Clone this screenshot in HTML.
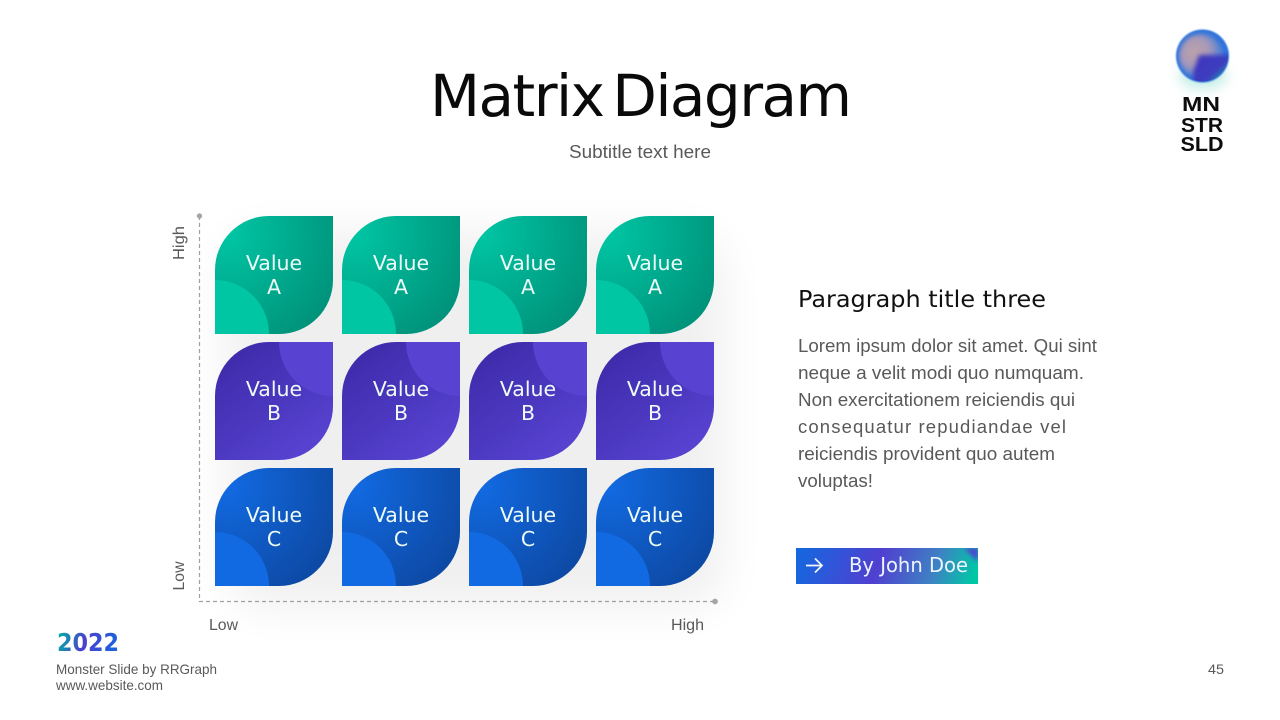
<!DOCTYPE html>
<html><head><meta charset="utf-8"><style>
html,body{margin:0;padding:0;background:#fff;width:1280px;height:720px;overflow:hidden}
svg{display:block}
text{font-family:"Liberation Sans",sans-serif}
.d{font-family:"DejaVu Sans",sans-serif}
.v{font-family:"DejaVu Sans",sans-serif;font-size:20.5px;fill:#eefbf8;text-anchor:middle}
</style></head><body>
<svg width="1280" height="720" viewBox="0 0 1280 720" xmlns="http://www.w3.org/2000/svg">
<defs>
<radialGradient id="ga" cx=".1" cy=".15" r="1.05"><stop offset="0" stop-color="#00c6a4"/><stop offset="1" stop-color="#00927a"/></radialGradient>
<linearGradient id="gb" x1=".2" y1=".05" x2=".85" y2=".95"><stop offset="0" stop-color="#3e2bab"/><stop offset="1" stop-color="#5844d2"/></linearGradient>
<radialGradient id="gc" cx=".1" cy=".15" r="1.05"><stop offset="0" stop-color="#126ae2"/><stop offset="1" stop-color="#0d49a4"/></radialGradient>
<linearGradient id="gy" gradientUnits="userSpaceOnUse" x1="57" y1="632" x2="119" y2="652"><stop offset="0" stop-color="#00b5a0"/><stop offset=".45" stop-color="#4b3fd0"/><stop offset="1" stop-color="#1269e0"/></linearGradient>
<linearGradient id="gbtn" gradientUnits="userSpaceOnUse" x1="800" y1="535" x2="975" y2="597"><stop offset="0" stop-color="#1269e0"/><stop offset=".45" stop-color="#5040d0"/><stop offset=".74" stop-color="#3f80c4"/><stop offset=".96" stop-color="#00c8a5"/></linearGradient>
<radialGradient id="tan" gradientUnits="userSpaceOnUse" cx="1195" cy="52" r="24"><stop offset="0" stop-color="#bda4a8"/><stop offset=".6" stop-color="#a898b8"/><stop offset="1" stop-color="#5f86d0"/></radialGradient>
<linearGradient id="orb2" gradientUnits="userSpaceOnUse" x1="1195" y1="50" x2="1224" y2="80"><stop offset="0" stop-color="#3c36ba"/><stop offset=".72" stop-color="#3c3cc0"/><stop offset="1" stop-color="#10b0a0"/></linearGradient>
<filter id="s" x="-50%" y="-50%" width="200%" height="200%"><feGaussianBlur stdDeviation="22"/></filter>
<filter id="b2" x="-30%" y="-30%" width="160%" height="160%"><feGaussianBlur stdDeviation="2.4"/></filter>
<filter id="b1" x="-10%" y="-10%" width="120%" height="120%"><feGaussianBlur stdDeviation=".7"/></filter>
<filter id="b6" x="-50%" y="-50%" width="200%" height="200%"><feGaussianBlur stdDeviation="6"/></filter>
<path id="leaf" d="M54 0H118V64A54 54 0 0 1 64 118H0V54A54 54 0 0 1 54 0Z"/>
<clipPath id="cl"><use href="#leaf"/></clipPath>
<clipPath id="orbclip"><circle cx="1202.5" cy="56" r="25.5"/></clipPath>
<g id="A"><use href="#leaf" fill="url(#ga)"/><circle cx="0" cy="118" r="54" fill="#00c6a4" clip-path="url(#cl)"/></g>
<g id="B"><use href="#leaf" fill="url(#gb)"/><circle cx="118" cy="0" r="54" fill="#5842d2" clip-path="url(#cl)"/></g>
<g id="C"><use href="#leaf" fill="url(#gc)"/><circle cx="0" cy="118" r="54" fill="#126ae2" clip-path="url(#cl)"/></g>
</defs>

<text class="d" x="641" y="116" font-size="58" word-spacing="-8" text-anchor="middle" fill="#0a0a0a" textLength="422" lengthAdjust="spacing">Matrix Diagram</text>
<text x="640" y="158" font-size="18.5" text-anchor="middle" fill="#595959" textLength="142" lengthAdjust="spacingAndGlyphs">Subtitle text here</text>

<!-- logo -->
<ellipse cx="1203" cy="76" rx="24" ry="14" fill="#5fd0bc" opacity=".35" filter="url(#b6)"/>
<circle cx="1202.5" cy="56" r="26.5" fill="#2a72dc" filter="url(#b1)"/>
<g clip-path="url(#orbclip)">
<circle cx="1201" cy="56" r="22" fill="url(#tan)" filter="url(#b2)"/>
<path d="M1199 55H1232V90H1193V72Z" fill="url(#orb2)" filter="url(#b2)"/>
</g>
<g font-weight="bold" fill="#0d0d0d" text-anchor="middle">
<text x="1201" y="111" font-size="20" textLength="38" lengthAdjust="spacingAndGlyphs">MN</text>
<text x="1202" y="132" font-size="20" textLength="42" lengthAdjust="spacingAndGlyphs">STR</text>
<text x="1202" y="151" font-size="20" textLength="43" lengthAdjust="spacingAndGlyphs">SLD</text>
</g>

<!-- shadow -->
<rect x="226" y="232" width="498" height="376" rx="40" fill="#000" opacity=".06" filter="url(#s)"/>

<!-- axes -->
<path d="M199.5 216V601.5H715" fill="none" stroke="#a0a0a0" stroke-width="1.2" stroke-dasharray="4 3"/>
<circle cx="199.5" cy="216" r="2.7" fill="#a6a6a6"/>
<circle cx="715" cy="601.5" r="2.9" fill="#a6a6a6"/>
<g fill="#595959" font-size="15.5">
<text transform="translate(184,243) rotate(-90)" text-anchor="middle" textLength="34" lengthAdjust="spacingAndGlyphs">High</text>
<text transform="translate(184,576) rotate(-90)" text-anchor="middle" textLength="29" lengthAdjust="spacingAndGlyphs">Low</text>
<text x="209" y="630" textLength="29" lengthAdjust="spacingAndGlyphs">Low</text>
<text x="671" y="630" textLength="33" lengthAdjust="spacingAndGlyphs">High</text>
</g>

<!-- cells -->
<use href="#A" x="215" y="216"/><use href="#A" x="342" y="216"/><use href="#A" x="469" y="216"/><use href="#A" x="596" y="216"/>
<use href="#B" x="215" y="342"/><use href="#B" x="342" y="342"/><use href="#B" x="469" y="342"/><use href="#B" x="596" y="342"/>
<use href="#C" x="215" y="468"/><use href="#C" x="342" y="468"/><use href="#C" x="469" y="468"/><use href="#C" x="596" y="468"/>

<text class="v" x="274" y="270">Value</text><text class="v" x="274" y="294">A</text>
<text class="v" x="401" y="270">Value</text><text class="v" x="401" y="294">A</text>
<text class="v" x="528" y="270">Value</text><text class="v" x="528" y="294">A</text>
<text class="v" x="655" y="270">Value</text><text class="v" x="655" y="294">A</text>
<text class="v" x="274" y="396">Value</text><text class="v" x="274" y="420">B</text>
<text class="v" x="401" y="396">Value</text><text class="v" x="401" y="420">B</text>
<text class="v" x="528" y="396">Value</text><text class="v" x="528" y="420">B</text>
<text class="v" x="655" y="396">Value</text><text class="v" x="655" y="420">B</text>
<text class="v" x="274" y="522">Value</text><text class="v" x="274" y="546">C</text>
<text class="v" x="401" y="522">Value</text><text class="v" x="401" y="546">C</text>
<text class="v" x="528" y="522">Value</text><text class="v" x="528" y="546">C</text>
<text class="v" x="655" y="522">Value</text><text class="v" x="655" y="546">C</text>

<!-- paragraph -->
<text class="d" x="798" y="307" font-size="23" fill="#111" textLength="248" lengthAdjust="spacingAndGlyphs">Paragraph title three</text>
<g font-size="18.5" fill="#595959">
<text x="798" y="352" textLength="299" lengthAdjust="spacingAndGlyphs">Lorem ipsum dolor sit amet. Qui sint</text>
<text x="798" y="379" textLength="286" lengthAdjust="spacingAndGlyphs">neque a velit modi quo numquam.</text>
<text x="798" y="406" textLength="277" lengthAdjust="spacingAndGlyphs">Non exercitationem reiciendis qui</text>
<text x="798" y="433" textLength="268" lengthAdjust="spacing">consequatur repudiandae vel</text>
<text x="798" y="460" textLength="257" lengthAdjust="spacingAndGlyphs">reiciendis provident quo autem</text>
<text x="798" y="487" textLength="75" lengthAdjust="spacingAndGlyphs">voluptas!</text>
</g>

<!-- button -->
<rect x="796" y="548" width="182" height="36" fill="url(#gbtn)"/>
<svg x="796" y="548" width="182" height="36"><path d="M168 0H182V14Z" fill="#5040d0" filter="url(#b2)"/></svg>
<path d="M806 565.5H822M815 558.5L822 565.5L815 572.5" fill="none" stroke="#f0f6ff" stroke-width="1.7"/>
<text class="d" x="849" y="572" font-size="20" fill="#eef4ff" textLength="119" lengthAdjust="spacingAndGlyphs">By John Doe</text>

<!-- footer -->
<text class="d" x="57" y="651" font-size="25" font-weight="bold" fill="url(#gy)" textLength="62" lengthAdjust="spacingAndGlyphs">2022</text>
<text x="56" y="674" font-size="14" fill="#595959" textLength="161" lengthAdjust="spacingAndGlyphs">Monster Slide  by RRGraph</text>
<text x="56" y="690" font-size="14" fill="#595959" textLength="107" lengthAdjust="spacingAndGlyphs">www.website.com</text>
<text x="1208" y="674" font-size="14" fill="#595959" textLength="16" lengthAdjust="spacingAndGlyphs">45</text>
</svg>
</body></html>
